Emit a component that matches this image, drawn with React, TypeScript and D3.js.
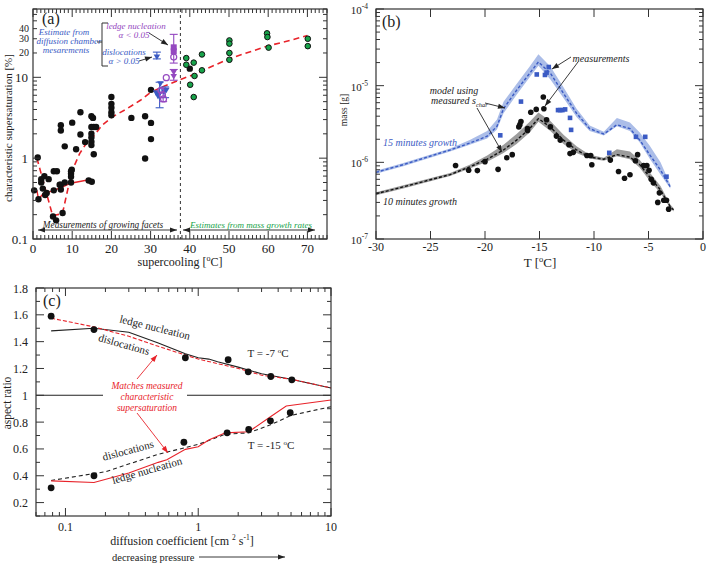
import React from "react";
import * as d3 from "d3";

const FONT = "'Liberation Serif', 'Times New Roman', serif";
const RED = "#e8232a";
const BLUE = "#3b5bc4";
const PURPLE = "#9448c0";
const GREEN = "#17a34a";

// ---------- panel (a): characteristic supersaturation vs supercooling ----------
const aBlackDots: [number, number][] = [
  [0.3, 0.4], [1.2, 1.02], [1.4, 0.31], [2.1, 0.55], [2.1, 0.5], [2.5, 0.42], [2.9, 0.6],
  [3.1, 0.35], [3.5, 0.37], [4.0, 0.55], [5.3, 0.69], [6.1, 0.69], [5.3, 0.4], [5.1, 0.19],
  [5.9, 0.17], [6.8, 0.47], [7.1, 0.47], [7.1, 0.41], [7.1, 2.55], [7.1, 2.2], [7.55, 0.21],
  [8.1, 1.4], [8.1, 0.5], [9.7, 0.69], [9.7, 0.64], [9.7, 0.59], [9.9, 0.72], [9.7, 0.5],
  [10.0, 2.75], [11.0, 1.29], [12.1, 1.96], [12.1, 3.7], [13.3, 1.58], [14.2, 0.53],
  [14.9, 3.3], [15.3, 3.15], [14.9, 2.43], [15.5, 2.43], [16.1, 2.43], [14.9, 2.0],
  [14.9, 1.8], [14.9, 1.6], [14.9, 1.45], [15.5, 1.12], [15.0, 0.51], [20.0, 5.7],
  [20.0, 4.7], [20.0, 4.2], [20.0, 3.7], [20.0, 3.4], [25.1, 3.15], [28.6, 3.3],
  [28.6, 0.99], [30.1, 2.73], [30.1, 1.72], [30.1, 7.0], [40.0, 12.8],
];
const aGreenDots: [number, number][] = [
  [39.1, 17.3], [39.1, 14.3], [40.1, 8.1], [41.0, 5.7], [41.0, 15.2], [41.2, 10.4],
  [43.1, 19.2], [43.1, 12.2], [50.1, 28.6], [50.1, 26.1], [50.1, 20], [50.1, 16.5],
  [59.7, 35], [59.8, 31.5], [60.1, 23.3], [70.1, 30], [70.1, 24.3],
];
const aFitDashed: [number, number][] = [
  [1.0, 1.0], [5.0, 0.195], [7.5, 0.205], [9.3, 0.51], [10.4, 0.78], [11.9, 1.14],
  [13.3, 1.45], [15, 1.75], [17.6, 2.55], [20.2, 3.23], [24, 4.1], [27.4, 5.2],
  [30, 6.5], [33, 7.6], [37.6, 9.4], [41, 10.8], [50, 17], [60, 24.5], [66, 29], [70, 33],
];
const aFitSolid: [number, number][] = [
  [1.0, 0.4], [1.4, 0.31], [2.5, 0.36], [5.3, 0.4], [7.5, 0.44], [9.6, 0.49], [14.2, 0.54], [15, 0.51],
];
const ledgeSquares: [number, number][] = [[35.9, 21], [35.9, 23.5]];
const ledgeTriangles: [number, number][] = [[35.9, 11.5], [35.9, 10.2]];
const ledgeCircles: [number, number][] = [[35.9, 17.8], [34.0, 9.9], [32.6, 6.9], [33.0, 6.1], [33.3, 5.4]];
const ledgeErrors: [number, number, number][] = [[35.9, 15, 34], [35.9, 9.2, 12.5], [33.2, 5.0, 7.3]];
const dislocTriangles: [number, number][] = [
  [31.6, 17.8], [31.4, 6.4], [32.1, 6.1], [32.5, 8.3], [33.4, 6.6], [34.0, 6.9], [31.9, 5.8],
];
const dislocErrors: [number, number, number][] = [[31.6, 16.9, 20.5], [32.3, 4.2, 8.7], [33.7, 5.6, 7.6]];
const aXTicks = [0, 10, 20, 30, 40, 50, 60, 70];
const aYLabels = [0.1, 1, 10];
const aYLabelsSmall = [20, 30, 40];

// ---------- panel (b): mass vs temperature ----------
const bModelT = [
  -30, -27.5, -23.2, -21.4, -19.8, -18.9, -18.3, -17.1, -15.9, -15.1, -14.0,
  -12.8, -11.6, -10.4, -9.1, -7.9, -6.7, -5.8, -4.9, -3.9, -3.0,
];
const blueModel = [
  7.41e-7, 9.33e-7, 1.45e-6, 1.78e-6, 2.19e-6, 2.95e-6, 5.01e-6, 8.71e-6, 1.45e-5, 2.04e-5, 1.45e-5,
  7.94e-6, 4.37e-6, 2.75e-6, 2.34e-6, 3.09e-6, 2.75e-6, 1.95e-6, 1.26e-6, 7.94e-7, 4.79e-7,
];
const blueHi = [
  7.76e-7, 9.77e-7, 1.51e-6, 1.95e-6, 2.57e-6, 3.63e-6, 6.17e-6, 1.05e-5, 1.78e-5, 2.57e-5, 1.78e-5,
  9.55e-6, 5.01e-6, 3.02e-6, 2.51e-6, 3.8e-6, 3.31e-6, 2.45e-6, 1.66e-6, 1.0e-6, 5.13e-7,
];
const blueLo = [
  7.08e-7, 8.91e-7, 1.38e-6, 1.7e-6, 2.04e-6, 2.69e-6, 4.37e-6, 7.59e-6, 1.29e-5, 1.82e-5, 1.2e-5,
  6.92e-6, 3.89e-6, 2.57e-6, 2.24e-6, 2.95e-6, 2.57e-6, 1.82e-6, 1.12e-6, 6.92e-7, 4.57e-7,
];
const bBlackT = [
  -30, -27.5, -23.2, -21.4, -19.8, -18.3, -17.1, -15.9, -15.1, -14.0, -12.8,
  -11.6, -10.4, -9.1, -7.9, -6.7, -5.8, -4.9, -3.9, -3.0, -2.7,
];
const blackModel = [
  3.89e-7, 4.79e-7, 6.92e-7, 8.71e-7, 1.1e-6, 1.45e-6, 1.95e-6, 2.75e-6, 3.72e-6, 2.88e-6, 1.95e-6,
  1.45e-6, 1.17e-6, 1.1e-6, 1.26e-6, 1.17e-6, 9.33e-7, 6.46e-7, 4.37e-7, 2.63e-7, 2.4e-7,
];
const blackHi = [
  4.07e-7, 5.01e-7, 7.24e-7, 9.33e-7, 1.23e-6, 1.7e-6, 2.34e-6, 3.39e-6, 4.47e-6, 3.47e-6, 2.29e-6,
  1.62e-6, 1.26e-6, 1.15e-6, 1.48e-6, 1.38e-6, 1.07e-6, 7.41e-7, 4.9e-7, 2.82e-7, 2.51e-7,
];
const blackLo = [
  3.72e-7, 4.57e-7, 6.61e-7, 8.32e-7, 1.02e-6, 1.32e-6, 1.74e-6, 2.45e-6, 3.39e-6, 2.57e-6, 1.74e-6,
  1.32e-6, 1.12e-6, 1.05e-6, 1.2e-6, 1.1e-6, 8.51e-7, 5.75e-7, 3.98e-7, 2.51e-7, 2.29e-7,
];
const bBlackDots: [number, number][] = [
  [-22.7, 9.1e-7], [-21.5, 7.9e-7], [-20.7, 7.8e-7], [-20.0, 1.02e-6], [-18.8, 8.1e-7],
  [-18.0, 1.15e-6], [-17.5, 1.26e-6], [-16.9, 2.9e-6], [-16.8, 3.1e-6], [-16.7, 3.4e-6],
  [-16.1, 2.6e-6], [-16.1, 2.75e-6], [-15.8, 4.5e-6], [-15.3, 4.9e-6], [-14.65, 7.1e-6],
  [-14.6, 5.0e-6], [-14.35, 3.6e-6], [-14.0, 2.9e-6], [-13.45, 2.2e-6], [-13.1, 1.95e-6],
  [-12.3, 1.7e-6], [-12.2, 1.3e-6], [-11.9, 1.35e-6], [-10.65, 1.23e-6], [-10.3, 1.23e-6],
  [-10.2, 9.3e-7], [-8.5, 1.07e-6], [-7.75, 7.6e-7], [-7.2, 6.2e-7], [-6.7, 6.9e-7],
  [-6.2, 1.05e-6], [-6.0, 1.26e-6], [-5.45, 9.1e-7], [-5.15, 9.1e-7], [-4.95, 7.9e-7],
  [-4.75, 6.0e-7], [-4.55, 5.4e-7], [-4.15, 3.0e-7], [-4.0, 4.0e-7], [-3.6, 3.2e-7],
  [-3.35, 3.2e-7], [-3.15, 2.45e-7],
];
const bBlueSquares: [number, number][] = [
  [-18.6, 2.25e-6], [-16.7, 6.2e-6], [-15.25, 1.4e-5], [-14.5, 1.38e-5], [-14.35, 1.48e-5],
  [-14.15, 1.75e-5], [-13.3, 4.8e-6], [-13.1, 4.8e-6], [-12.9, 4.8e-6], [-12.65, 4.9e-6],
  [-12.2, 3.8e-6], [-12.1, 2.65e-6], [-8.6, 1.33e-6], [-6.15, 2.15e-6], [-5.3, 2.15e-6],
  [-3.35, 6.5e-7],
];
const bXTicks = [-30, -25, -20, -15, -10, -5, 0];
const bYExp = [-4, -5, -6, -7];

// ---------- panel (c): aspect ratio vs diffusion coefficient ----------
const cUpperD = [0.078, 0.164, 0.8, 1.68, 2.38, 3.52, 5.07];
const cUpperAR = [1.59, 1.49, 1.28, 1.265, 1.175, 1.14, 1.115];
const cLowerD = [0.078, 0.164, 0.78, 1.65, 2.4, 3.5, 4.93];
const cLowerAR = [0.31, 0.4, 0.65, 0.72, 0.745, 0.81, 0.87];
const cUpLedgeD = [0.078, 0.164, 0.3, 0.5, 0.8, 1.0, 1.2, 1.4, 2.0, 3.0, 5.0, 10];
const cUpLedge = [1.48, 1.5, 1.47, 1.39, 1.31, 1.28, 1.27, 1.25, 1.21, 1.16, 1.12, 1.055];
const cUpDislD = [0.078, 0.164, 0.3, 0.5, 0.8, 1.0, 2.0, 3.0, 5.0, 10];
const cUpDisl = [1.575, 1.51, 1.44, 1.365, 1.3, 1.27, 1.2, 1.15, 1.12, 1.055];
const cLoDislD = [0.078, 0.2, 0.5, 1.0, 1.6, 2.4, 3.5, 5, 10];
const cLoDisl = [0.365, 0.43, 0.56, 0.634, 0.71, 0.72, 0.78, 0.85, 0.915];
const cLoLedgeD = [0.078, 0.164, 0.3, 0.5, 0.58, 0.8, 1.0, 1.2, 1.6, 2.4, 3.5, 4.6, 10];
const cLoLedge = [0.362, 0.35, 0.42, 0.5, 0.52, 0.597, 0.616, 0.666, 0.72, 0.728, 0.84, 0.92, 0.965];
const cYTicks = [0.2, 0.4, 0.6, 0.8, 1, 1.2, 1.4, 1.6, 1.8];
const cXLabels = [0.1, 1, 10];

// scales
const xA = d3.scaleLinear().domain([0, 75]).range([33, 327]);
const yA = d3.scaleLog().domain([0.1, 70]).range([239, 9]);
const xB = d3.scaleLinear().domain([-30, 0]).range([376, 703]);
const yB = d3.scaleLog().domain([1e-7, 1e-4]).range([239, 9]);
const xC = d3.scaleLog().domain([0.06, 10]).range([36, 331]);
const yC = d3.scaleLinear().domain([0.1, 1.8]).range([516, 288]);

const isDecade = (v: number) => Math.abs(Math.log10(v) - Math.round(Math.log10(v))) < 1e-6;

function Ticks({ xs, ys, xMaj, xMin, yMaj, yMin }: {
  xs: any; ys: any; xMaj: number[]; xMin: number[]; yMaj: number[]; yMin: number[];
}) {
  const [l, r] = xs.range();
  const [b, t] = ys.range();
  const out: JSX.Element[] = [];
  const add = (k: string, x1: number, y1: number, x2: number, y2: number) =>
    out.push(<line key={k} x1={x1} y1={y1} x2={x2} y2={y2} stroke="#333" strokeWidth={1} />);
  xMaj.forEach((v, i) => { const x = xs(v); add("xM" + i, x, b, x, b - 8); add("xMt" + i, x, t, x, t + 8); });
  xMin.forEach((v, i) => { const x = xs(v); add("xm" + i, x, b, x, b - 4); add("xmt" + i, x, t, x, t + 4); });
  yMaj.forEach((v, i) => { const y = ys(v); add("yM" + i, l, y, l + 8, y); add("yMr" + i, r, y, r - 8, y); });
  yMin.forEach((v, i) => { const y = ys(v); add("ym" + i, l, y, l + 4, y); add("ymr" + i, r, y, r - 4, y); });
  return (
    <g>
      {out}
      <rect x={l} y={t} width={r - l} height={b - t} fill="none" stroke="#333" strokeWidth={1.2} />
    </g>
  );
}

function Arrow({ x1, y1, x2, y2, color = "#222", both = false, w = 0.9 }: any) {
  const head = (xa: number, ya: number, xb: number, yb: number) => {
    const a = Math.atan2(yb - ya, xb - xa);
    const L = 7, s = 2.6;
    const bx = xb - L * Math.cos(a), by = yb - L * Math.sin(a);
    return `${xb},${yb} ${bx - s * Math.sin(a)},${by + s * Math.cos(a)} ${bx + s * Math.sin(a)},${by - s * Math.cos(a)}`;
  };
  return (
    <g>
      <line x1={x1} y1={y1} x2={x2} y2={y2} stroke={color} strokeWidth={w} />
      <polygon points={head(x1, y1, x2, y2)} fill={color} />
      {both && <polygon points={head(x2, y2, x1, y1)} fill={color} />}
    </g>
  );
}

function ErrBar({ x, lo, hi, color }: { x: number; lo: number; hi: number; color: string }) {
  return (
    <g stroke={color} strokeWidth={1.1}>
      <line x1={x} x2={x} y1={lo} y2={hi} />
      <line x1={x - 4} x2={x + 4} y1={lo} y2={lo} />
      <line x1={x - 4} x2={x + 4} y1={hi} y2={hi} />
    </g>
  );
}

const triDown = (x: number, y: number, s = 3.3) =>
  `${x - s},${y - s * 0.8} ${x + s},${y - s * 0.8} ${x},${y + s * 0.9}`;

export default function App() {
  const lineA = d3.line<[number, number]>().x((d) => xA(d[0])).y((d) => yA(d[1]));
  const aMinorX = d3.range(0, 76).filter((v) => v % 10 !== 0);
  const aLogTicks = yA.ticks();
  const aYMaj = aLogTicks.filter(isDecade);
  const aYMin = aLogTicks.filter((v) => !isDecade(v));

  const bLine = (ts: number[], ms: number[]) =>
    d3.line<number>().x((_, i) => xB(ts[i])).y((m) => yB(m))(ms) || "";
  const bArea = (ts: number[], hi: number[], lo: number[]) =>
    d3.area<number>().x((_, i) => xB(ts[i])).y0((_, i) => yB(lo[i])).y1((h) => yB(h))(hi) || "";
  const bLog = yB.ticks();
  const bYMaj = bLog.filter(isDecade);
  const bYMin = bLog.filter((v) => !isDecade(v));

  const cLine = (ds: number[], vs: number[]) =>
    d3.line<number>().x((_, i) => xC(ds[i])).y((v) => yC(v))(vs) || "";
  const cLogX = xC.ticks();
  const cXMaj = cLogX.filter(isDecade);
  const cXMin = cLogX.filter((v) => !isDecade(v));
  const cYMin = d3.range(0.1, 1.85, 0.2).map((v) => +v.toFixed(2));

  return (
    <svg width={709} height={566} style={{ position: "absolute", left: 0, top: 0, background: "#fff" }}
      fontFamily={FONT}>
      {/* ================= panel (a) ================= */}
      <g>
        <line x1={xA(37.6)} x2={xA(37.6)} y1={9} y2={239} stroke="#333" strokeDasharray="3,3" strokeWidth={1} />
        <path d={lineA(aFitSolid) || ""} fill="none" stroke={RED} strokeWidth={1.4} />
        <path d={lineA(aFitDashed) || ""} fill="none" stroke={RED} strokeWidth={1.6} strokeDasharray="6,4" />
        {aBlackDots.map((d, i) => <circle key={"ab" + i} cx={xA(d[0])} cy={yA(d[1])} r={3.2} fill="#111" />)}
        {aGreenDots.map((d, i) => (
          <circle key={"ag" + i} cx={xA(d[0])} cy={yA(d[1])} r={2.8} fill={GREEN} stroke="#111" strokeWidth={1} />
        ))}
        {dislocErrors.map((d, i) => (
          <ErrBar key={"de" + i} x={xA(d[0])} lo={yA(d[1])} hi={yA(d[2])} color={BLUE} />
        ))}
        {ledgeErrors.map((d, i) => (
          <ErrBar key={"le" + i} x={xA(d[0])} lo={yA(d[1])} hi={yA(d[2])} color={PURPLE} />
        ))}
        {dislocTriangles.map((d, i) => <polygon key={"dt" + i} points={triDown(xA(d[0]), yA(d[1]))} fill={BLUE} />)}
        {ledgeTriangles.map((d, i) => <polygon key={"lt" + i} points={triDown(xA(d[0]), yA(d[1]))} fill={PURPLE} />)}
        {ledgeSquares.map((d, i) => (
          <rect key={"ls" + i} x={xA(d[0]) - 3} y={yA(d[1]) - 3} width={6} height={6} fill={PURPLE} />
        ))}
        {ledgeCircles.map((d, i) => (
          <circle key={"lc" + i} cx={xA(d[0])} cy={yA(d[1])} r={3} fill="none" stroke={PURPLE} strokeWidth={1.2} />
        ))}

        <Ticks xs={xA} ys={yA} xMaj={aXTicks} xMin={aMinorX} yMaj={aYMaj} yMin={aYMin} />
        {aXTicks.map((v) => (
          <text key={"axl" + v} x={xA(v)} y={253} fontSize={13} textAnchor="middle" fill="#222">{v}</text>
        ))}
        {aYLabels.map((v) => (
          <text key={"ayl" + v} x={28} y={yA(v) + 4.5} fontSize={13} textAnchor="end" fill="#222">{v}</text>
        ))}
        {aYLabelsSmall.map((v) => (
          <text key={"ays" + v} x={29} y={yA(v) + 3.5} fontSize={10} textAnchor="end" fill="#222">{v}</text>
        ))}
        <text x={180} y={266} fontSize={12} textAnchor="middle" fill="#222">
          supercooling [<tspan fontSize={8} dy={-5}>o</tspan><tspan dy={5}>C]</tspan>
        </text>
        <text transform="translate(12,128) rotate(-90)" fontSize={11} textAnchor="middle" fill="#222">
          characteristic supersaturation [%]
        </text>
        <text x={42} y={24} fontSize={16} fill="#222">(a)</text>

        <g fontStyle="italic" fontSize={9} textAnchor="middle">
          <text x={64} y={35} fill={BLUE}>Estimate from</text>
          <text x={69} y={44} fill={BLUE}>diffusion chamber</text>
          <text x={66} y={53} fill={BLUE}>mesarements</text>
          <text x={136} y={29} fill={PURPLE}>ledge nucleation</text>
          <text x={134} y={38} fill={PURPLE}>α &lt; 0.05</text>
          <text x={124} y={55} fill={BLUE}>dislocations</text>
          <text x={124} y={64} fill={BLUE}>α &gt; 0.05</text>
        </g>
        <path d="M97,42 H102 M108,23 H102 V66 H108" fill="none" stroke="#333" strokeWidth={1} />
        <Arrow x1={149} y1={33} x2={168} y2={45} />
        <Arrow x1={139} y1={61} x2={152} y2={57} />
        <Arrow x1={38} y1={230} x2={177} y2={230} both />
        <Arrow x1={183} y1={230} x2={315} y2={230} both />
        <text x={103} y={228} fontSize={9.3} fontStyle="italic" textAnchor="middle" fill="#222">
          Measurements of growing facets
        </text>
        <text x={251} y={228} fontSize={9} fontStyle="italic" textAnchor="middle" fill={GREEN}>
          Estimates from mass growth rates
        </text>
      </g>

      {/* ================= panel (b) ================= */}
      <g>
        <path d={bArea(bModelT, blueHi, blueLo)} fill="#abbde8" />
        <path d={bArea(bBlackT, blackHi, blackLo)} fill="#9c9c9c" />
        <path d={bLine(bModelT, blueModel)} fill="none" stroke={BLUE} strokeWidth={1.4} strokeDasharray="3,2" />
        <path d={bLine(bBlackT, blackModel)} fill="none" stroke="#111" strokeWidth={1.4} strokeDasharray="3,2" />
        {bBlackDots.map((d, i) => <circle key={"bb" + i} cx={xB(d[0])} cy={yB(d[1])} r={2.8} fill="#111" />)}
        {bBlueSquares.map((d, i) => (
          <rect key={"bs" + i} x={xB(d[0]) - 2.3} y={yB(d[1]) - 2.3} width={4.6} height={4.6} fill={BLUE} />
        ))}
        <Ticks xs={xB} ys={yB} xMaj={bXTicks} xMin={[]} yMaj={bYMaj} yMin={bYMin} />
        {bXTicks.map((v) => (
          <text key={"bxl" + v} x={xB(v)} y={251} fontSize={12} textAnchor="middle" fill="#222">{v}</text>
        ))}
        {bYExp.map((e) => (
          <text key={"byl" + e} x={368} y={yB(Math.pow(10, e)) + 5} fontSize={11} textAnchor="end" fill="#222">
            10<tspan fontSize={7.5} dy={-5}>{e}</tspan>
          </text>
        ))}
        <text x={540} y={267} fontSize={13} textAnchor="middle" fill="#222">
          T [<tspan fontSize={8.5} dy={-5}>o</tspan><tspan dy={5}>C]</tspan>
        </text>
        <text transform="translate(347,110) rotate(-90)" fontSize={9.5} textAnchor="middle" fill="#222">
          mass [g]
        </text>
        <text x={382} y={27} fontSize={16} fill="#222">(b)</text>
        <g fontStyle="italic" fontSize={10}>
          <text x={601} y={62} textAnchor="middle" fill="#222">measurements</text>
          <text x={454} y={94} textAnchor="middle" fill="#222">model using</text>
          <text x={431} y={104} fill="#222">
            measured s<tspan fontSize={6.5} dy={3}>char</tspan>
          </text>
          <text x={383} y={146} fill={BLUE}>15 minutes growth</text>
          <text x={383} y={205} fill="#222">10 minutes growth</text>
        </g>
        <Arrow x1={571} y1={57} x2={552} y2={69} />
        <Arrow x1={578} y1={62} x2={545} y2={106} />
        <Arrow x1={485} y1={103} x2={505} y2={108} />
        <Arrow x1={477} y1={108} x2={502} y2={152} />
      </g>

      {/* ================= panel (c) ================= */}
      <g>
        <line x1={36} x2={331} y1={yC(1)} y2={yC(1)} stroke="#222" strokeWidth={1.1} />
        <rect x={103} y={378} width={84} height={36} fill="#fff" />
        <path d={cLine(cUpLedgeD, cUpLedge)} fill="none" stroke="#222" strokeWidth={1.1} />
        <path d={cLine(cUpDislD, cUpDisl)} fill="none" stroke={RED} strokeWidth={1.1} strokeDasharray="4,2" />
        <path d={cLine(cLoDislD, cLoDisl)} fill="none" stroke="#222" strokeWidth={1.1} strokeDasharray="4,3" />
        <path d={cLine(cLoLedgeD, cLoLedge)} fill="none" stroke={RED} strokeWidth={1.1} />
        {cUpperD.map((d, i) => <circle key={"cu" + i} cx={xC(d)} cy={yC(cUpperAR[i])} r={3.4} fill="#111" />)}
        {cLowerD.map((d, i) => <circle key={"cl" + i} cx={xC(d)} cy={yC(cLowerAR[i])} r={3.4} fill="#111" />)}
        <Ticks xs={xC} ys={yC} xMaj={cXMaj} xMin={cXMin} yMaj={cYTicks} yMin={cYMin} />
        {cXLabels.map((v) => (
          <text key={"cxl" + v} x={xC(v)} y={531} fontSize={12} textAnchor="middle" fill="#222">{v}</text>
        ))}
        {cYTicks.map((v) => (
          <text key={"cyl" + v} x={28} y={yC(v) + 4.5} fontSize={12} textAnchor="end" fill="#222">{v}</text>
        ))}
        <text x={182} y={545} fontSize={12} textAnchor="middle" fill="#222">
          diffusion coefficient [cm <tspan fontSize={7.5} dy={-5}>2</tspan>
          <tspan dy={5}> s</tspan><tspan fontSize={7.5} dy={-5}>-1</tspan><tspan dy={5}>]</tspan>
        </text>
        <text x={112} y={561} fontSize={10.5} fill="#222">decreasing pressure</text>
        <Arrow x1={199} y1={557} x2={285} y2={557} />
        <text transform="translate(11,403) rotate(-90)" fontSize={11.5} textAnchor="middle" fill="#222">
          aspect ratio
        </text>
        <text x={43} y={306} fontSize={16} fill="#222">(c)</text>

        <g fontSize={11} fill="#222" textAnchor="middle">
          <text transform="translate(154,331) rotate(14)">ledge nucleation</text>
          <text transform="translate(123,348) rotate(16)">dislocations</text>
          <text transform="translate(129,454) rotate(-15)">dislocations</text>
          <text transform="translate(148,474) rotate(-16)">ledge nucleation</text>
          <text x={268} y={357}>T = -7 <tspan fontSize={7} dy={-4}>o</tspan><tspan dy={4}>C</tspan></text>
          <text x={271} y={449}>T = -15 <tspan fontSize={7} dy={-4}>o</tspan><tspan dy={4}>C</tspan></text>
        </g>
        <g fontSize={9.5} fontStyle="italic" fill={RED} textAnchor="middle">
          <text x={147} y={389}>Matches measured</text>
          <text x={147} y={400}>characteristic</text>
          <text x={147} y={411}>supersaturation</text>
        </g>
        <Arrow x1={137} y1={379} x2={157} y2={355} color={RED} />
        <Arrow x1={137} y1={413} x2={168} y2={453} color={RED} />
      </g>
    </svg>
  );
}
